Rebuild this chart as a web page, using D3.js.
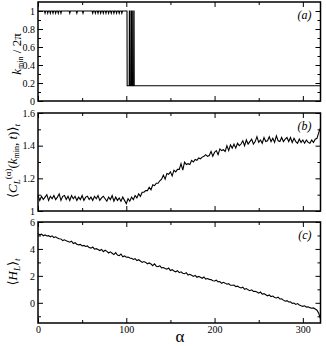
<!DOCTYPE html>
<html>
<head>
<meta charset="utf-8">
<script src="https://cdn.jsdelivr.net/npm/d3@7"></script>
<style>
  body { margin: 0; background: #fff; }
  svg { display: block; }
  text { font-family: "Liberation Serif", "DejaVu Serif", serif; fill: #000; }
</style>
</head>
<body>
<svg id="chart" width="326" height="346"></svg>
<script>
// alpha axis
const alphaDomain = [0, 320]
const alphaMajor = [0, 100, 200, 300]
const alphaMinor = [50, 150, 250]

// panel (a): k_min / 2pi
const kAlpha = [0,
  7.3, 8, 8.7, 10.3, 11, 11.7, 13.3, 14, 14.7, 16.3, 17, 17.7, 19.3, 20, 20.7, 22.3, 23, 23.7, 25.3, 26, 26.7,
  35.3, 36, 36.7, 43.3, 44, 44.7, 50.3, 51, 51.7,
  61.3, 62, 62.7, 64.3, 65, 65.7, 67.3, 68, 68.7, 70.3, 71, 71.7, 73.3, 74, 74.7, 76.3, 77, 77.7,
  79.3, 80, 80.7, 82.3, 83, 83.7, 85.3, 86, 86.7, 88.3, 89, 89.7, 91.3, 92, 92.7, 94.3, 95, 95.7,
  100.8, 101, 103.3, 103.5, 104.3, 104.5, 105.8, 106, 106.8, 107, 108.3, 108.5, 108.8, 109, 320]
const kVal = [1,
  1, 0.975, 1, 1, 0.975, 1, 1, 0.975, 1, 1, 0.975, 1, 1, 0.975, 1, 1, 0.975, 1, 1, 0.975, 1,
  1, 0.975, 1, 1, 0.975, 1, 1, 0.975, 1,
  1, 0.975, 1, 1, 0.975, 1, 1, 0.975, 1, 1, 0.975, 1, 1, 0.975, 1, 1, 0.975, 1,
  1, 0.975, 1, 1, 0.975, 1, 1, 0.975, 1, 1, 0.975, 1, 1, 0.975, 1, 1, 0.975, 1,
  1, 0.17, 0.17, 1, 1, 0.17, 0.17, 1, 1, 0.17, 0.17, 1, 1, 0.17, 0.17]
const kMajor = [0, 0.2, 0.4, 0.6, 0.8, 1]
const kMinor = [0.1, 0.3, 0.5, 0.7, 0.9]

// panels (b) and (c), read every 2 in alpha
const sampleAlpha = d3.range(0, 321, 2)
const cVal = [
  1.095, 1.065, 1.09, 1.07, 1.085, 1.1, 1.065, 1.09, 1.075, 1.095, 1.07,
  1.085, 1.105, 1.065, 1.09, 1.095, 1.07, 1.09, 1.065, 1.095, 1.075,
  1.09, 1.065, 1.085, 1.07, 1.095, 1.065, 1.085, 1.09, 1.07, 1.085,
  1.065, 1.09, 1.075, 1.095, 1.065, 1.08, 1.09, 1.075, 1.06, 1.085,
  1.07, 1.095, 1.06, 1.085, 1.065, 1.08, 1.06, 1.085, 1.065, 1.045,
  1.075, 1.06, 1.085, 1.07, 1.095, 1.08, 1.105, 1.09, 1.115, 1.115,
  1.125, 1.125, 1.145, 1.13, 1.16, 1.155, 1.17, 1.17, 1.185, 1.195,
  1.22, 1.195, 1.23, 1.225, 1.24, 1.215, 1.25, 1.24, 1.255, 1.255,
  1.29, 1.25, 1.3, 1.285, 1.29, 1.285, 1.31, 1.3, 1.315, 1.31,
  1.325, 1.32, 1.33, 1.335, 1.345, 1.335, 1.34, 1.365, 1.335, 1.36,
  1.37, 1.345, 1.38, 1.37, 1.375, 1.365, 1.4, 1.37, 1.405, 1.385,
  1.41, 1.385, 1.415, 1.4, 1.41, 1.43, 1.4, 1.435, 1.41, 1.425,
  1.44, 1.41, 1.425, 1.455, 1.42, 1.435, 1.415, 1.45, 1.425, 1.43,
  1.455, 1.425, 1.445, 1.42, 1.46, 1.43, 1.425, 1.45, 1.425, 1.44,
  1.45, 1.425, 1.45, 1.42, 1.445, 1.425, 1.415, 1.44, 1.42, 1.435,
  1.415, 1.435, 1.42, 1.415, 1.435, 1.42, 1.44, 1.445, 1.48, 1.51]
const cMajor = [1, 1.2, 1.4, 1.6]
const cMinor = [1.1, 1.3, 1.5]

const hVal = [
  5.12, 5.05, 5.1, 4.98, 5.04, 4.96, 4.99, 4.9, 4.97, 4.84, 4.9,
  4.82, 4.76, 4.74, 4.62, 4.68, 4.6, 4.55, 4.5, 4.58, 4.4,
  4.46, 4.35, 4.3, 4.34, 4.22, 4.26, 4.18, 4.22, 4.1, 4.06,
  4.14, 3.98, 4.02, 3.95, 3.88, 3.96, 3.8, 3.9, 3.82, 3.7,
  3.78, 3.68, 3.58, 3.72, 3.55, 3.5, 3.62, 3.42, 3.48, 3.38,
  3.4, 3.32, 3.3, 3.22, 3.28, 3.14, 3.2, 3.1, 3.0, 3.06,
  3.0, 2.9, 2.96, 2.88, 2.76, 2.9, 2.72, 2.68, 2.76, 2.6,
  2.62, 2.55, 2.5, 2.58, 2.4, 2.46, 2.36, 2.3, 2.38, 2.24,
  2.3, 2.2, 2.16, 2.24, 2.06, 2.12, 2.05, 1.96, 2.04, 1.9,
  1.96, 1.9, 1.82, 1.92, 1.76, 1.8, 1.74, 1.72, 1.64, 1.62,
  1.68, 1.56, 1.58, 1.45, 1.52, 1.46, 1.38, 1.42, 1.3, 1.3,
  1.32, 1.2, 1.24, 1.15, 1.1, 1.16, 1.0, 1.06, 0.96, 0.9,
  0.96, 0.84, 0.86, 0.8, 0.72, 0.8, 0.64, 0.68, 0.6, 0.52,
  0.58, 0.46, 0.5, 0.4, 0.36, 0.42, 0.28, 0.3, 0.2, 0.12,
  0.16, 0.06, 0.08, -0.04, -0.02, -0.12, -0.06, -0.16, -0.22, -0.26,
  -0.22, -0.32, -0.3, -0.36, -0.4, -0.38, -0.46, -0.55, -0.78, -1.2]
const hMajor = [0, 2, 4, 6]
const hMinor = [-1, 1, 3, 5]

const svg = d3.select('#chart')
const left = 38, right = 320.5

const x = d3.scaleLinear().domain(alphaDomain).range([left, right])

const panels = [
  { tag: '(a)', top: 2, bottom: 101, domain: [0, 1.1], major: kMajor, minor: kMinor, xs: kAlpha, ys: kVal },
  { tag: '(b)', top: 113, bottom: 211, domain: [1, 1.6], major: cMajor, minor: cMinor, xs: sampleAlpha, ys: cVal },
  { tag: '(c)', top: 222, bottom: 323, domain: [-1.5, 6], major: hMajor, minor: hMinor, xs: sampleAlpha, ys: hVal }
]

panels.forEach((p, i) => {
  const y = d3.scaleLinear().domain(p.domain).range([p.bottom, p.top])
  const g = svg.append('g')

  // ticks on all four sides, pointing in
  const addAxis = (axis, tx, ty) => {
    const a = g.append('g').attr('transform', `translate(${tx},${ty})`).call(axis)
    a.select('.domain').remove()
    a.selectAll('line').attr('stroke', '#000').attr('stroke-width', 1)
    a.selectAll('text').attr('font-size', 10).attr('font-family', '"Liberation Serif", serif')
  }
  addAxis(d3.axisLeft(y).tickValues(p.major).tickSize(-5).tickPadding(3).tickFormat(d3.format('')), left, 0)
  addAxis(d3.axisLeft(y).tickValues(p.minor).tickSize(-3).tickFormat(''), left, 0)
  addAxis(d3.axisRight(y).tickValues(p.major).tickSize(-5).tickFormat(''), right, 0)
  addAxis(d3.axisRight(y).tickValues(p.minor).tickSize(-3).tickFormat(''), right, 0)

  const isLast = i === panels.length - 1
  addAxis(d3.axisBottom(x).tickValues(alphaMajor).tickSize(-5).tickPadding(3)
    .tickFormat(isLast ? d3.format('') : ''), 0, p.bottom)
  addAxis(d3.axisBottom(x).tickValues(alphaMinor).tickSize(-3).tickFormat(''), 0, p.bottom)
  addAxis(d3.axisTop(x).tickValues(alphaMajor).tickSize(-5).tickFormat(''), 0, p.top)
  addAxis(d3.axisTop(x).tickValues(alphaMinor).tickSize(-3).tickFormat(''), 0, p.top)

  g.append('rect')
    .attr('x', left).attr('y', p.top)
    .attr('width', right - left).attr('height', p.bottom - p.top)
    .attr('fill', 'none').attr('stroke', '#000').attr('stroke-width', 1.5)

  const line = d3.line()
    .x((d, j) => x(p.xs[j]))
    .y(d => y(d))

  g.append('path')
    .datum(p.ys)
    .attr('d', line)
    .attr('fill', 'none')
    .attr('stroke', '#000')
    .attr('stroke-width', 1.1)

  g.append('text')
    .attr('x', right - 9).attr('y', p.top + 17)
    .attr('text-anchor', 'end')
    .attr('font-size', 12)
    .attr('font-style', 'italic')
    .text(p.tag)
})

// y axis titles
const ylab = (cx, cy) => svg.append('text')
  .attr('transform', `translate(${cx},${cy}) rotate(-90)`)
  .attr('text-anchor', 'middle')
  .attr('font-size', 13)

const ta = ylab(21, 54)
ta.append('tspan').attr('font-style', 'italic').text('k')
ta.append('tspan').attr('font-size', 8).attr('dy', 2).text('min')
ta.append('tspan').attr('dy', -2).text(' / 2π')

const tb = ylab(17, 161)
tb.append('tspan').text('⟨')
tb.append('tspan').attr('font-style', 'italic').text('C')
tb.append('tspan').attr('font-style', 'italic').attr('font-size', 9).attr('dy', 3).text('L')
tb.append('tspan').attr('font-size', 9).attr('dy', -9).text('(α)')
tb.append('tspan').attr('dy', 6).text('(')
tb.append('tspan').attr('font-style', 'italic').text('k')
tb.append('tspan').attr('font-size', 8).attr('dy', 2).text('min')
tb.append('tspan').attr('dy', -2).text(', ')
tb.append('tspan').attr('font-style', 'italic').text('t')
tb.append('tspan').text(')⟩')
tb.append('tspan').attr('font-style', 'italic').attr('font-size', 9).attr('dy', 3).text('t')

const tc = ylab(17, 272)
tc.append('tspan').text('⟨')
tc.append('tspan').attr('font-style', 'italic').text('H')
tc.append('tspan').attr('font-style', 'italic').attr('font-size', 9).attr('dy', 3).text('L')
tc.append('tspan').attr('dy', -3).text('⟩')
tc.append('tspan').attr('font-style', 'italic').attr('font-size', 9).attr('dy', 3).text('t')

// x axis title
svg.append('text')
  .attr('x', 180).attr('y', 342)
  .attr('text-anchor', 'middle')
  .attr('font-size', 17)
  .text('α')
</script>
</body>
</html>
